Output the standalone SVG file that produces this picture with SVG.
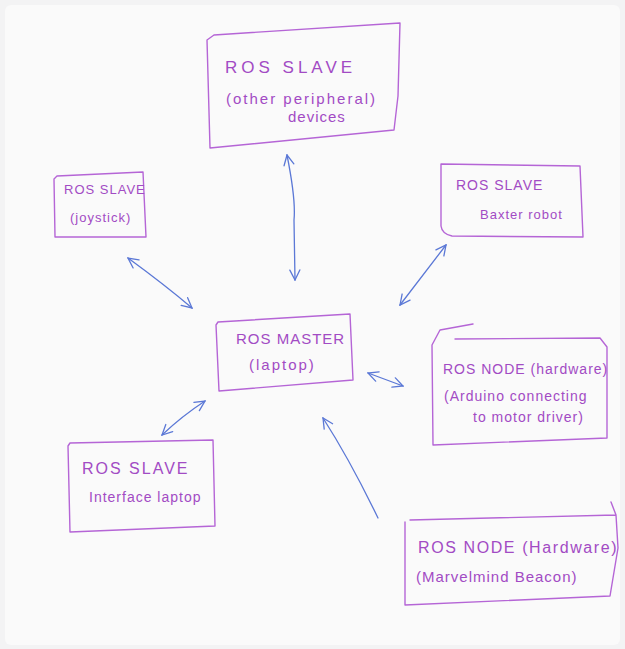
<svg xmlns="http://www.w3.org/2000/svg" width="625" height="649" viewBox="0 0 625 649">
<defs>
<style>
.box{fill:none;stroke:#b565d6;stroke-width:1.4;stroke-linejoin:round;stroke-linecap:round}
.t{font-family:"Liberation Sans",Arial,sans-serif;fill:#a24bc4;font-size:15px;letter-spacing:1px}
.tb{font-family:"Liberation Sans",Arial,sans-serif;fill:#a24bc4;font-size:17px;letter-spacing:3px}
.c{fill:none;stroke:#5b78d6;stroke-width:1.3;stroke-linecap:round}
</style>
<marker id="ah" viewBox="0 0 12 12" refX="11" refY="6" markerWidth="12" markerHeight="12" markerUnits="userSpaceOnUse" orient="auto-start-reverse">
<path d="M1,1 L11,6 L1,11" fill="none" stroke="#5b78d6" stroke-width="1.3" stroke-linecap="round"/>
</marker>
</defs>
<rect x="0" y="0" width="625" height="649" fill="#f3f3f4"/>
<rect x="5" y="5" width="615" height="640" rx="6" fill="#fafafa"/>

<g id="slave-peripheral">
<path class="box" d="M214,35 L400,23 L398,96 L394,130 L210,148 L207,40 Z"/>
<text class="tb" x="225" y="73" style="letter-spacing:4px">ROS SLAVE</text>
<text class="t" x="226" y="104" style="letter-spacing:2px">(other peripheral)</text>
<text class="t" x="288" y="122">devices</text>
</g>

<g id="slave-joystick">
<path class="box" d="M57,176 L143,172 L146,237 L55,237 L54,179 Z"/>
<text class="t" x="64" y="194" style="font-size:13px">ROS SLAVE</text>
<text class="t" x="70" y="222" style="font-size:13px">(joystick)</text>
</g>

<g id="slave-baxter">
<path class="box" d="M441,164 L580,166 L583,237 L452,236 Q442,234 441,226 Z"/>
<text class="t" x="456" y="190" style="font-size:14px">ROS SLAVE</text>
<text class="t" x="480" y="219" style="font-size:13px">Baxter robot</text>
</g>

<g id="master">
<path class="box" d="M218,322 L350,314 L353,380 L219,391 L216,325 Z"/>
<text class="t" x="236" y="344" style="letter-spacing:1px">ROS MASTER</text>
<text class="t" x="249" y="370" style="letter-spacing:2px">(laptop)</text>
</g>

<g id="node-arduino">
<path class="box" d="M473,324 L440,330 L432,345 L433,445 L607,438 L607,347 L600,338 L455,339"/>
<text class="t" x="443" y="374" style="font-size:14px">ROS NODE (hardware)</text>
<text class="t" x="444" y="401" style="font-size:14px">(Arduino connecting</text>
<text class="t" x="473" y="422" style="font-size:14px">to motor driver)</text>
</g>

<g id="slave-interface">
<path class="box" d="M70,443 L213,440 L215,526 L70,532 L68,446 Z"/>
<text class="t" x="82" y="474" style="font-size:16px;letter-spacing:2px">ROS SLAVE</text>
<text class="t" x="89" y="502" style="font-size:14px">Interface laptop</text>
</g>

<g id="node-marvelmind">
<path class="box" d="M410,520 L616,515 L611,502 M616,515 L618,548 L610,596 L405,605 L405,522"/>
<text class="t" x="418" y="553" style="font-size:16px;letter-spacing:1.6px">ROS NODE (Hardware)</text>
<text class="t" x="416" y="582" style="font-size:15px">(Marvelmind Beacon)</text>
</g>

<g id="connectors">
<path class="c" d="M287,155 Q296,200 294,220 L295,280" marker-start="url(#ah)" marker-end="url(#ah)"/>
<path class="c" d="M128,258 Q165,285 192,308" marker-start="url(#ah)" marker-end="url(#ah)"/>
<path class="c" d="M446,245 L400,305" marker-start="url(#ah)" marker-end="url(#ah)"/>
<path class="c" d="M368,373 L403,386" marker-start="url(#ah)" marker-end="url(#ah)"/>
<path class="c" d="M205,401 Q182,416 162,435" marker-start="url(#ah)" marker-end="url(#ah)"/>
<path class="c" d="M378,518 Q350,460 323,418" marker-end="url(#ah)"/>
</g>
</svg>
